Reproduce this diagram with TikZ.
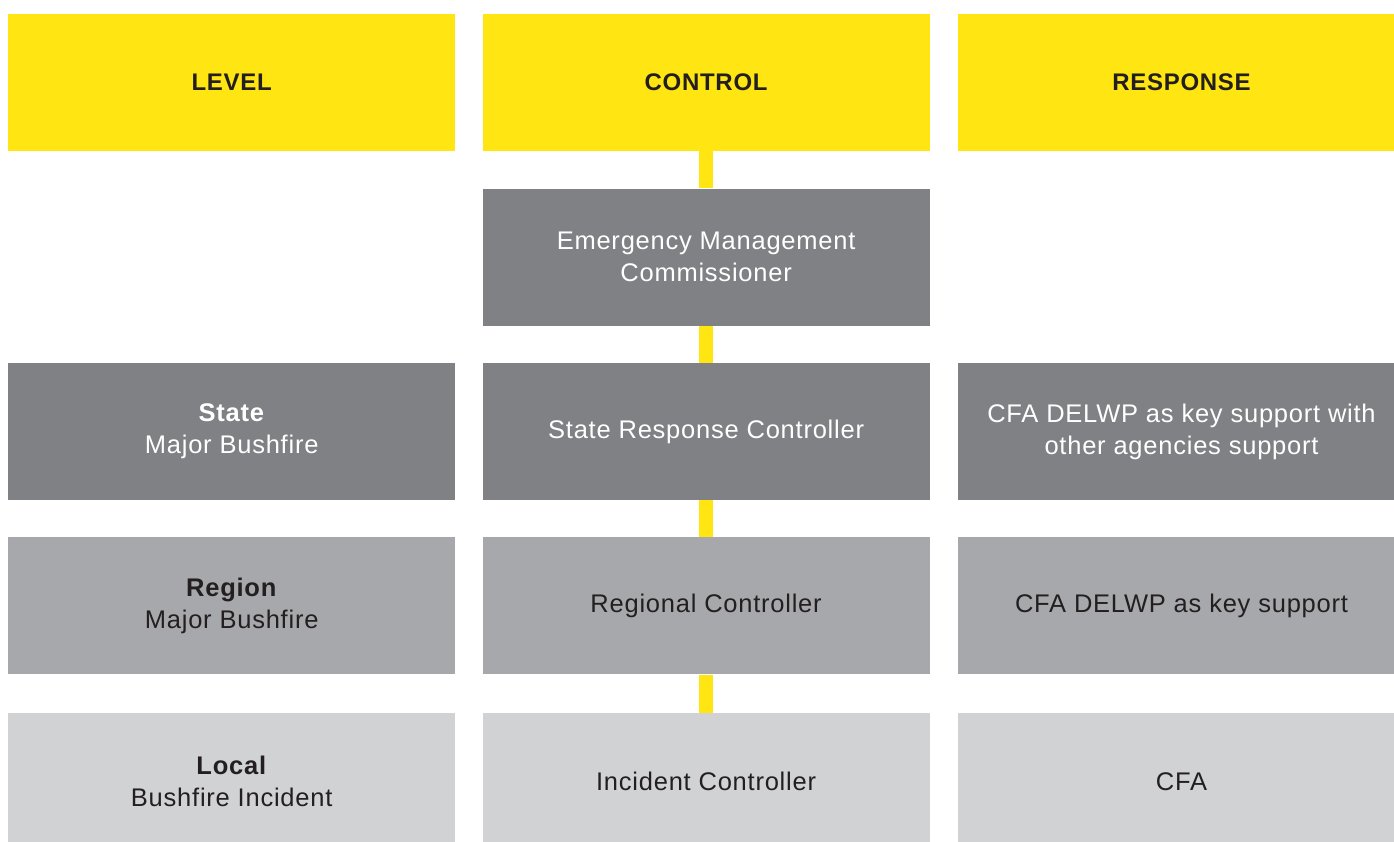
\documentclass[tikz,border=0pt]{standalone}
\usepackage{fontspec}
\setmainfont{Liberation Sans}[LetterSpace=3]
\usetikzlibrary{positioning}
\definecolor{cfayellow}{HTML}{FFE512}
\definecolor{darkgrey}{HTML}{808184}
\definecolor{midgrey}{HTML}{A7A8AB}
\definecolor{lightgrey}{HTML}{D1D2D4}
\definecolor{inkblack}{HTML}{231F20}
\begin{document}
\begin{tikzpicture}[x=1pt, y=1pt, node distance=37pt and 27pt,
  cell/.style={rectangle, minimum width=447pt, minimum height=137pt, inner sep=0pt, align=center},
  head cell/.style={cell, fill=cfayellow, text=inkblack, font=\fontsize{24}{31}\selectfont\bfseries},
  state cell/.style={cell, fill=darkgrey, text=white},
  region cell/.style={cell, fill=midgrey, text=inkblack},
  local cell/.style={cell, fill=lightgrey, text=inkblack},
  link/.style={draw=cfayellow, line width=14pt}]
\clip (0,0) rectangle (1394,-841);
% header row
\node [head cell, anchor=north west] (level) at (8,-14) {LEVEL};
\node [head cell, right=of level] (control) {CONTROL};
\node [head cell, right=28pt of control] (response) {RESPONSE};
\begin{scope}[every node/.style={font=\fontsize{25.5}{32}\selectfont}]
\node [state cell, below=of control] (emc) {Emergency Management\\Commissioner};
% state
\node [state cell, below=of emc] (src) {State Response Controller};
\node [state cell, left=of src] (state) {\textbf{State}\\Major Bushfire};
\node [state cell, right=28pt of src] (stateresp) {CFA DELWP as key support with\\other agencies support};
% region
\node [region cell, below=of src] (rc) {Regional Controller};
\node [region cell, left=of rc] (region) {\textbf{Region}\\Major Bushfire};
\node [region cell, right=28pt of rc] (regionresp) {CFA DELWP as key support};
% local
\node [local cell, below=38pt of rc] (ic) {Incident Controller};
\node [local cell, left=of ic] (local) {\textbf{Local}\\Bushfire Incident};
\node [local cell, right=28pt of ic] (localresp) {CFA};
\end{scope}
\path [link]
	(control) edge (emc)
	(emc) edge (src)
	(src) edge (rc)
	(rc) edge (ic)
	;
\end{tikzpicture}
\end{document}
